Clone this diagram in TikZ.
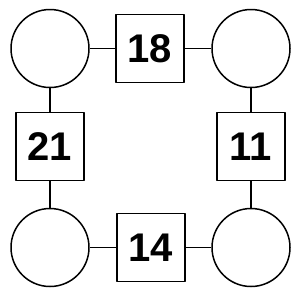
\documentclass[tikz,border=0pt]{standalone}
\usepackage{fontspec}
\setmainfont{Liberation Sans}
\tikzset{
  ring/.style={draw, circle, minimum size=78pt, inner sep=0pt},
  numbox/.style={draw, rectangle, minimum size=68pt, inner sep=0pt,
    font=\fontsize{40}{40}\selectfont\bfseries}
}
\begin{document}
\begin{tikzpicture}[x=1pt,y=-1pt,line width=1.5pt,line join=round]
            \useasboundingbox (0,0) rectangle (300,300);

            % kruhy v rozích
            \node[ring] (TL) at (50,48.5) {};
            \node[ring] (TR) at (251,48.5) {};
            \node[ring] (BL) at (50,247.5) {};
            \node[ring] (BR) at (251,247.5) {};

            % čtverce s čísly
            \node[numbox] (T) at (150,48.5) {18};
            \node[numbox] (L) at (50,146.5) {21};
            \node[numbox] (R) at (251,146.5) {11};
            \node[numbox] (B) at (151,247.5) {14};

            \draw (TL)--(T)--(TR);
            \draw (TR)--(R)--(BR);
            \draw (BR)--(B)--(BL);
            \draw (BL)--(L)--(TL);
        \end{tikzpicture}
\end{document}
